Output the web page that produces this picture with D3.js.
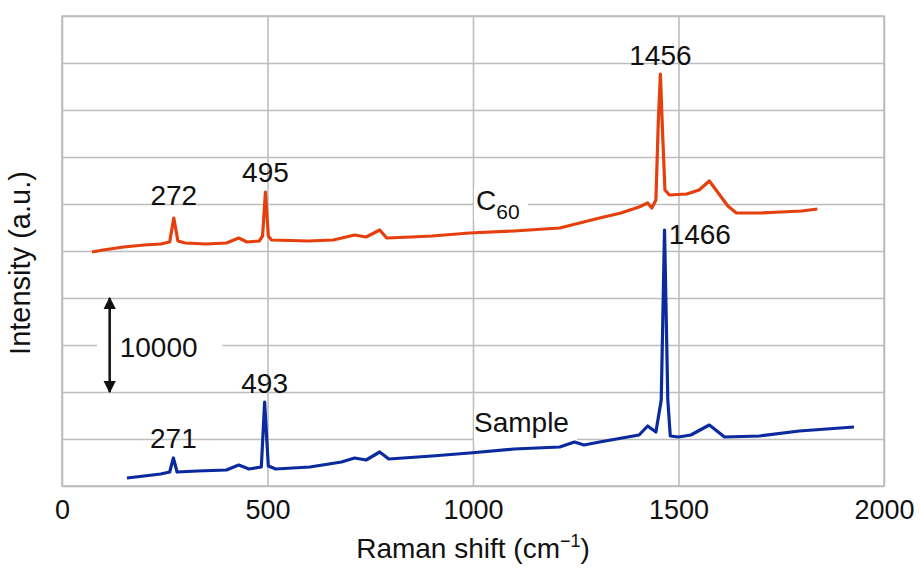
<!DOCTYPE html>
<html>
<head>
<meta charset="utf-8">
<script src="https://cdn.jsdelivr.net/npm/d3@7"></script>
<style>
  body { margin: 0; background: #fff; }
  text { font-family: "Liberation Sans", Arial, sans-serif; fill: #111; }
</style>
</head>
<body>
<div id="app"></div>
<script>
// Raman shift (cm-1) and intensity
const c60Shift = [73, 100, 150, 200, 240, 262, 272, 282, 300, 350, 400, 430, 450, 480, 488, 495, 502, 510,
  600, 660, 712, 740, 773, 790, 850, 900, 992, 1100, 1211, 1308, 1360, 1404, 1425, 1435, 1445, 1451, 1456,
  1461, 1467, 1478, 1520, 1550, 1575, 1595, 1620, 1641, 1700, 1750, 1800, 1838];
const c60Intensity = [24893, 25106, 25425, 25638, 25745, 25957, 28511, 26064, 25851, 25745, 25851, 26383, 25957,
  26064, 26596, 31277, 26596, 26170, 26064, 26170, 26702, 26489, 27234, 26383, 26489, 26596, 26915, 27128,
  27447, 28511, 29043, 29681, 30106, 29574, 30426, 38936, 43830, 37872, 31489, 30957, 31064, 31489, 32447,
  31277, 29787, 29043, 29043, 29149, 29255, 29468];

const sampleShift = [158, 200, 240, 262, 271, 280, 330, 400, 430, 455, 485, 493, 502, 520, 603, 680, 712, 740,
  773, 795, 900, 992, 1100, 1211, 1247, 1270, 1308, 1404, 1425, 1445, 1458, 1466, 1474, 1480, 1500, 1530,
  1575, 1612, 1697, 1794, 1927];
const sampleIntensity = [851, 1064, 1277, 1489, 2979, 1489, 1596, 1702, 2234, 1809, 2021, 8936, 2128, 1809, 2021,
  2553, 2979, 2766, 3617, 2872, 3191, 3511, 3936, 4149, 4681, 4362, 4681, 5425, 6383, 5745, 9149, 27234,
  9149, 5319, 5213, 5425, 6489, 5213, 5319, 5851, 6277];

const xTicks = [0, 500, 1000, 1500, 2000];
const yGrid = d3.range(0, 50001, 5000);

// peak labels: [shift, intensity, text, anchor]
const peakLabels = [
  [272, 29900, "272", "middle"],
  [495, 32300, "495", "middle"],
  [1456, 44800, "1456", "middle"],
  [1476, 25700, "1466", "start"],
  [493, 9900, "493", "middle"],
  [271, 4000, "271", "middle"]
];

const margin = {top: 16, right: 36, bottom: 82, left: 62};
const width = 920 - margin.left - margin.right;
const height = 568 - margin.top - margin.bottom;

const svg = d3.select("#app")
  .append("svg")
    .attr("width", 920)
    .attr("height", 568)
  .append("g")
    .attr("transform", "translate(" + margin.left + "," + margin.top + ")");

const x = d3.scaleLinear().domain([0, 2000]).range([0, width]);
const y = d3.scaleLinear().domain([0, 50000]).range([height, 0]);

// grid
svg.append("g")
    .attr("transform", "translate(0," + height + ")")
    .call(d3.axisBottom(x).tickValues(xTicks).tickSize(-height).tickFormat(""))
    .call(g => g.select(".domain").remove())
    .call(g => g.selectAll("line").attr("stroke", "#bdbdbd").attr("stroke-width", 1.6));
svg.append("g")
    .call(d3.axisLeft(y).tickValues(yGrid).tickSize(-width).tickFormat(""))
    .call(g => g.select(".domain").remove())
    .call(g => g.selectAll("line").attr("stroke", "#bdbdbd").attr("stroke-width", 1.6));
svg.append("rect")
    .attr("width", width).attr("height", height)
    .attr("fill", "none").attr("stroke", "#bdbdbd").attr("stroke-width", 1.6);

// x axis labels
svg.append("g")
    .attr("transform", "translate(0," + height + ")")
    .call(d3.axisBottom(x).tickValues(xTicks).tickSize(0).tickPadding(14).tickFormat(d3.format("d")))
    .call(g => g.select(".domain").remove())
    .call(g => g.selectAll("text").style("font-size", "27px")
      .style("font-family", '"Liberation Sans", Arial, sans-serif').attr("fill", "#111"));

// series labels with white boxes
const c60Label = svg.append("g").attr("transform", "translate(" + x(1000) + "," + y(29360) + ")");
c60Label.append("rect").attr("x", 1).attr("y", -24).attr("width", 54).attr("height", 36).attr("fill", "#fff");
const c60Text = c60Label.append("text").attr("x", 3).style("font-size", "28px");
c60Text.append("tspan").text("C");
c60Text.append("tspan").attr("dy", 9).style("font-size", "21px").text("60");

const sampleLabel = svg.append("g").attr("transform", "translate(" + x(1000) + "," + y(5745) + ")");
sampleLabel.append("rect").attr("x", 1).attr("y", -24).attr("width", 103).attr("height", 34).attr("fill", "#fff");
sampleLabel.append("text").attr("x", 1).style("font-size", "28px").text("Sample");

// scale bar
const barX = x(116);
svg.append("rect")
    .attr("x", x(85)).attr("y", y(15000) - 15)
    .attr("width", x(390) - x(85)).attr("height", 30).attr("fill", "#fff");
svg.append("defs").append("marker")
    .attr("id", "head").attr("viewBox", "0 0 10 10")
    .attr("refX", 9).attr("refY", 5)
    .attr("markerWidth", 5).attr("markerHeight", 7)
    .attr("markerUnits", "strokeWidth")
    .attr("orient", "auto-start-reverse")
  .append("path").attr("d", "M0,0 L10,5 L0,10 z").attr("fill", "#111");
svg.append("line")
    .attr("x1", barX).attr("x2", barX)
    .attr("y1", y(10000)).attr("y2", y(20000))
    .attr("stroke", "#111").attr("stroke-width", 2.5)
    .attr("marker-start", "url(#head)").attr("marker-end", "url(#head)");
svg.append("text")
    .attr("x", barX + 10).attr("y", y(15000) + 12)
    .style("font-size", "28px").text("10000");

// spectra
const line = d3.line().x(d => x(d[0])).y(d => y(d[1]));
svg.append("path")
    .datum(d3.zip(c60Shift, c60Intensity))
    .attr("fill", "none").attr("stroke", "#e4400e").attr("stroke-width", 3.2)
    .attr("stroke-linejoin", "round").attr("d", line);
svg.append("path")
    .datum(d3.zip(sampleShift, sampleIntensity))
    .attr("fill", "none").attr("stroke", "#0b2a9e").attr("stroke-width", 3.2)
    .attr("stroke-linejoin", "round").attr("d", line);

// peak labels
svg.selectAll(".peak")
  .data(peakLabels)
  .join("text")
    .attr("class", "peak")
    .attr("x", d => x(d[0]))
    .attr("y", d => y(d[1]))
    .attr("text-anchor", d => d[3])
    .style("font-size", "28px")
    .text(d => d[2]);

// axis titles
const xt = svg.append("text")
    .attr("x", width / 2).attr("y", height + 72)
    .attr("text-anchor", "middle").style("font-size", "28px");
xt.append("tspan").text("Raman shift (cm");
xt.append("tspan").attr("dy", -11).style("font-size", "18px").text("\u22121");
xt.append("tspan").attr("dy", 11).text(")");

svg.append("text")
    .attr("transform", "translate(-32," + (height / 2 + 12) + ") rotate(-90)")
    .attr("text-anchor", "middle").style("font-size", "29px")
    .text("Intensity (a.u.)");
</script>
</body>
</html>
